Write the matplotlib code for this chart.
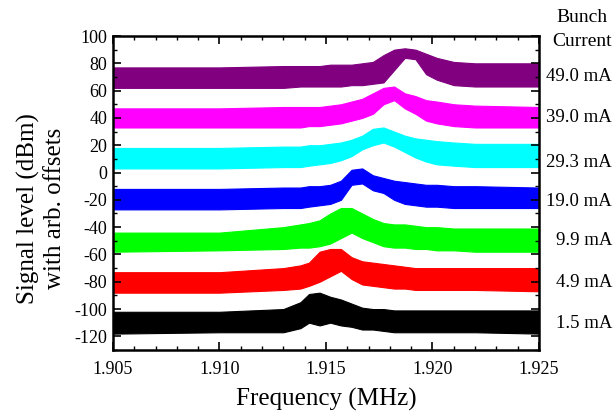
import numpy as np
import matplotlib
matplotlib.use("Agg")
import matplotlib.pyplot as plt
import matplotlib.transforms as mtransforms
from matplotlib.ticker import MultipleLocator

plt.rcParams['font.family'] = ['Liberation Serif', 'DejaVu Serif']

freq = [1.905, 1.910, 1.913, 1.9138, 1.9142, 1.9147, 1.9152, 1.9157, 1.9162, 1.9167,
        1.9172, 1.9177, 1.9182, 1.9187, 1.9192, 1.9197, 1.9202, 1.9210, 1.9220, 1.925]

# upper / lower envelope of each noisy trace (dBm, with offsets)
hi_1p5 = [-102, -102, -100, -95, -89, -88, -91, -93, -96, -99, -100, -100, -101, -101, -101, -101, -101, -101, -101, -101]
lo_1p5 = [-118, -117, -117, -114, -110, -112, -110, -112, -113, -115, -115, -116, -117, -117, -117, -117, -117, -117, -117, -118]
hi_4p9 = [-73, -73, -70, -68, -66, -58, -56, -56, -62, -65, -66, -67, -68, -69, -70, -70, -70, -70, -70, -70]
lo_4p9 = [-88, -88, -86, -85, -83, -80, -76, -72, -78, -82, -83, -84, -85, -85, -86, -86, -86, -86, -86, -87]
hi_9p9 = [-44, -44, -40, -38, -37, -35, -30, -26, -26, -30, -34, -37, -38, -38, -39, -40, -40, -41, -41, -41]
lo_9p9 = [-58, -57, -56, -55, -55, -54, -52, -48, -44, -48, -51, -54, -55, -55, -56, -56, -57, -57, -58, -58]
hi_19 = [-12, -12, -11, -11, -10, -10, -9, -6, 2, 3, -2, -4, -6, -7, -8, -9, -9, -10, -10, -11]
lo_19 = [-27, -27, -26, -26, -25, -24, -23, -20, -9, -8, -13, -15, -20, -23, -24, -25, -25, -26, -26, -26]
hi_29 = [18, 18, 19, 19, 20, 20, 21, 22, 24, 27, 32, 33, 30, 27, 25, 24, 23, 22, 21, 21]
lo_29 = [3, 3, 4, 4, 5, 6, 7, 9, 12, 17, 20, 22, 19, 15, 11, 8, 6, 5, 4, 4]
hi_39 = [47, 47, 48, 48, 48, 48, 49, 50, 52, 54, 58, 62, 63, 58, 56, 53, 52, 50, 49, 48]
lo_39 = [33, 33, 33, 33, 34, 34, 35, 36, 38, 40, 43, 50, 53, 47, 43, 38, 36, 34, 33, 33]
hi_49 = [77, 77, 78, 78, 78, 78, 79, 79, 79, 80, 81, 86, 90, 91, 90, 87, 84, 81, 80, 80]
lo_49 = [62, 62, 62, 63, 63, 63, 63, 63, 64, 64, 65, 66, 75, 84, 83, 72, 68, 64, 63, 63]

currents = ['1.5 mA', '4.9 mA', '9.9 mA', '19.0 mA', '29.3 mA', '39.0 mA', '49.0 mA']
colors = ['black', 'red', '#00ff00', 'blue', 'cyan', 'magenta', 'purple']
uppers = [hi_1p5, hi_4p9, hi_9p9, hi_19, hi_29, hi_39, hi_49]
lowers = [lo_1p5, lo_4p9, lo_9p9, lo_19, lo_29, lo_39, lo_49]

# where the current labels sit on the y scale
label_y = [-110.5, -80.5, -49.5, -21, 7.5, 40, 70]

fig = plt.figure(figsize=(6.16, 4.11), dpi=100)
ax = fig.add_axes([0.1834, 0.1484, 0.6916, 0.764])
trans = mtransforms.blended_transform_factory(fig.transFigure, ax.transData)

for up, lo, c, lab, ly in zip(uppers, lowers, colors, currents, label_y):
    ax.fill_between(freq, lo, up, color=c, linewidth=0.8, edgecolor=c)
    ax.text(612 / 616, ly, lab, transform=trans, ha='right', va='center',
            fontsize=13.5, clip_on=False)

fig.text(582 / 616, 1 - 17 / 411, 'Bunch', ha='center', va='center', fontsize=14)
fig.text(582 / 616, 1 - 41 / 411, 'Current', ha='center', va='center', fontsize=14)

ax.set_xlim(1.905, 1.925)
ax.set_ylim(-130, 100)
ax.xaxis.set_major_locator(MultipleLocator(0.005))
ax.xaxis.set_minor_locator(MultipleLocator(0.001))
ax.yaxis.set_major_locator(MultipleLocator(20))
ax.yaxis.set_minor_locator(MultipleLocator(10))
ax.xaxis.set_major_formatter(plt.FormatStrFormatter('%.3f'))
ax.yaxis.set_major_formatter(plt.FuncFormatter(lambda v, p: '%d' % v))
ax.tick_params(which='both', direction='in', top=True, right=True, labelsize=13)
ax.tick_params(which='major', length=6, width=1.2)
ax.tick_params(which='minor', length=3, width=1.0)
ax.tick_params(axis='x', pad=8)
ax.tick_params(axis='y', pad=4)
for s in ax.spines.values():
    s.set_linewidth(1.8)

ax.set_xlabel('Frequency (MHz)', fontsize=18, labelpad=7)
ax.set_ylabel('Signal level (dBm)\nwith arb. offsets', fontsize=18, linespacing=1.25)
ax.yaxis.set_label_coords(-0.11, 0.45)

fig.savefig('out.png', dpi=100)
